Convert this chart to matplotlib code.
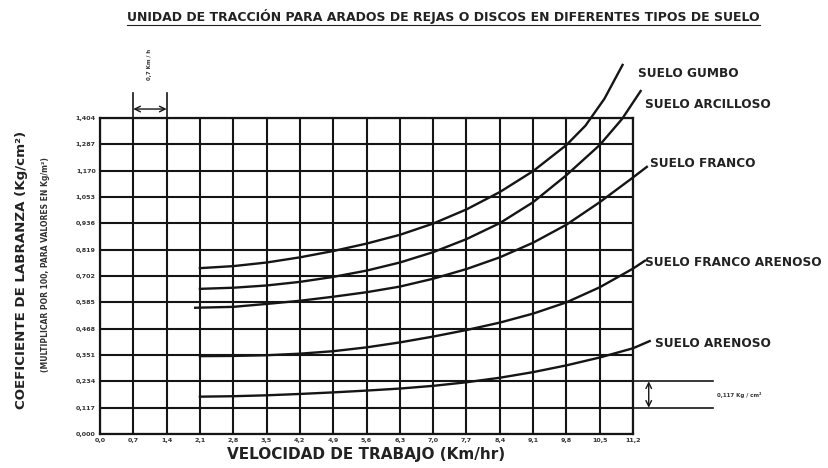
import matplotlib
matplotlib.use("Agg")
import matplotlib.pyplot as plt
from matplotlib.lines import Line2D

# ---- data ----
X_TICKS = [0.0, 0.7, 1.4, 2.1, 2.8, 3.5, 4.2, 4.9, 5.6, 6.3, 7.0, 7.7, 8.4, 9.1, 9.8, 10.5, 11.2]
X_LABELS = ["0,0", "0,7", "1,4", "2,1", "2,8", "3,5", "4,2", "4,9", "5,6", "6,3",
            "7,0", "7,7", "8,4", "9,1", "9,8", "10,5", "11,2"]
Y_TICKS = [0.0, 0.117, 0.234, 0.351, 0.468, 0.585, 0.702, 0.819, 0.936, 1.053, 1.170, 1.287, 1.404]
Y_LABELS = ["0,000", "0,117", "0,234", "0,351", "0,468", "0,585", "0,702", "0,819",
            "0,936", "1,053", "1,170", "1,287", "1,404"]

gumbo_x = [2.1, 2.8, 3.5, 4.2, 4.9, 5.6, 6.3, 7.0, 7.7, 8.4, 9.1, 9.8, 10.2, 10.6, 10.98]
gumbo_y = [0.737, 0.746, 0.762, 0.785, 0.813, 0.846, 0.885, 0.935, 0.998, 1.075, 1.168, 1.284, 1.370, 1.490, 1.640]

arcilloso_x = [2.1, 2.8, 3.5, 4.2, 4.9, 5.6, 6.3, 7.0, 7.7, 8.4, 9.1, 9.8, 10.5, 10.97, 11.36]
arcilloso_y = [0.645, 0.650, 0.660, 0.676, 0.698, 0.726, 0.762, 0.808, 0.866, 0.937, 1.030, 1.150, 1.284, 1.400, 1.524]

franco_x = [2.0, 2.8, 3.5, 4.2, 4.9, 5.6, 6.3, 7.0, 7.7, 8.4, 9.1, 9.8, 10.5, 11.2, 11.49]
franco_y = [0.561, 0.565, 0.578, 0.592, 0.610, 0.630, 0.655, 0.690, 0.733, 0.785, 0.850, 0.930, 1.030, 1.140, 1.187]

franco_ar_x = [2.1, 2.8, 3.5, 4.2, 4.9, 5.6, 6.3, 7.0, 7.7, 8.4, 9.1, 9.8, 10.5, 11.2, 11.45]
franco_ar_y = [0.346, 0.347, 0.350, 0.357, 0.368, 0.385, 0.407, 0.433, 0.462, 0.495, 0.535, 0.585, 0.652, 0.735, 0.770]

arenoso_x = [2.1, 2.8, 3.5, 4.2, 4.9, 5.6, 6.3, 7.0, 7.7, 8.4, 9.1, 9.8, 10.5, 11.2, 11.55]
arenoso_y = [0.166, 0.168, 0.172, 0.178, 0.185, 0.193, 0.202, 0.214, 0.230, 0.250, 0.275, 0.305, 0.340, 0.381, 0.413]

CURVES = [
    ("SUELO GUMBO", gumbo_x, gumbo_y, (11.30, 1.600)),
    ("SUELO ARCILLOSO", arcilloso_x, arcilloso_y, (11.45, 1.462)),
    ("SUELO FRANCO", franco_x, franco_y, (11.55, 1.200)),
    ("SUELO FRANCO ARENOSO", franco_ar_x, franco_ar_y, (11.45, 0.760)),
    ("SUELO ARENOSO", arenoso_x, arenoso_y, (11.66, 0.404)),
]

INK = "#151515"

fig = plt.figure(figsize=(8.29, 4.68), dpi=100)
ax = fig.add_axes([0.1206, 0.0726, 0.6430, 0.6752])

ax.set_xlim(0, 11.2)
ax.set_ylim(0, 1.404)
ax.set_xticks(X_TICKS)
ax.set_xticklabels(X_LABELS, fontsize=4.6, fontweight="bold", color="#333")
ax.set_yticks(Y_TICKS)
ax.set_yticklabels(Y_LABELS, fontsize=4.6, fontweight="bold", color="#333")
ax.tick_params(length=0, pad=3)
ax.grid(True, color=INK, lw=1.5)
for s in ax.spines.values():
    s.set_linewidth(1.6)
    s.set_color(INK)

# soil curves
for name, xs, ys, (lx, ly) in CURVES:
    ax.plot(xs, ys, color=INK, lw=1.7, clip_on=False, zorder=3,
            solid_joinstyle="round")
    ax.text(lx, ly, name, fontsize=8.7, fontweight="bold", color="#222",
            va="center", ha="left", clip_on=False)

# dimension mark top-left (0,7 Km/h)
for xv in (0.7, 1.4):
    ax.plot([xv, xv], [1.404, 1.515], color=INK, lw=1.2, clip_on=False)
ax.annotate("", xy=(0.7, 1.444), xytext=(1.4, 1.444),
            arrowprops=dict(arrowstyle="<->", color=INK, lw=1.0, shrinkA=0, shrinkB=0),
            annotation_clip=False)
ax.text(1.05, 1.64, "0,7 Km / h", rotation=90, fontsize=4, fontweight="bold",
        ha="center", va="center", color="#333", clip_on=False)

# dimension mark right (0,117 Kg/cm2)
for yv in (0.117, 0.234):
    ax.plot([11.2, 12.87], [yv, yv], color=INK, lw=1.2, clip_on=False)
ax.annotate("", xy=(11.53, 0.117), xytext=(11.53, 0.234),
            arrowprops=dict(arrowstyle="<->", color=INK, lw=1.0, shrinkA=0, shrinkB=0),
            annotation_clip=False)
ax.text(12.96, 0.1755, "0,117 Kg / cm²", fontsize=4, fontweight="bold",
        ha="left", va="center", color="#333", clip_on=False)

# axis titles
ax.set_xlabel("VELOCIDAD DE TRABAJO (Km/hr)", fontsize=11, fontweight="bold",
              color="#222", labelpad=3)
fig.text(0.026, 0.423, "COEFICIENTE DE LABRANZA (Kg/cm²)", rotation=90,
         fontsize=9.6, fontweight="bold", color="#222", ha="center", va="center")
fig.text(0.055, 0.434, "(MULTIPLICAR POR 100, PARA VALORES EN Kg/m²)", rotation=90,
         fontsize=5.5, fontweight="bold", color="#333", ha="center", va="center")

# underlined title
title = fig.text(0.535, 0.9637,
                 "UNIDAD DE TRACCIÓN PARA ARADOS DE REJAS O DISCOS EN DIFERENTES TIPOS DE SUELO",
                 fontsize=9.0, fontweight="bold", color="#222", ha="center", va="center")
fig.canvas.draw()
bb = title.get_window_extent().transformed(fig.transFigure.inverted())
fig.add_artist(Line2D([bb.x0, bb.x1], [bb.y0 - 0.002, bb.y0 - 0.002],
                      transform=fig.transFigure, color="#222", lw=0.8))

fig.savefig("out.png", dpi=100)
